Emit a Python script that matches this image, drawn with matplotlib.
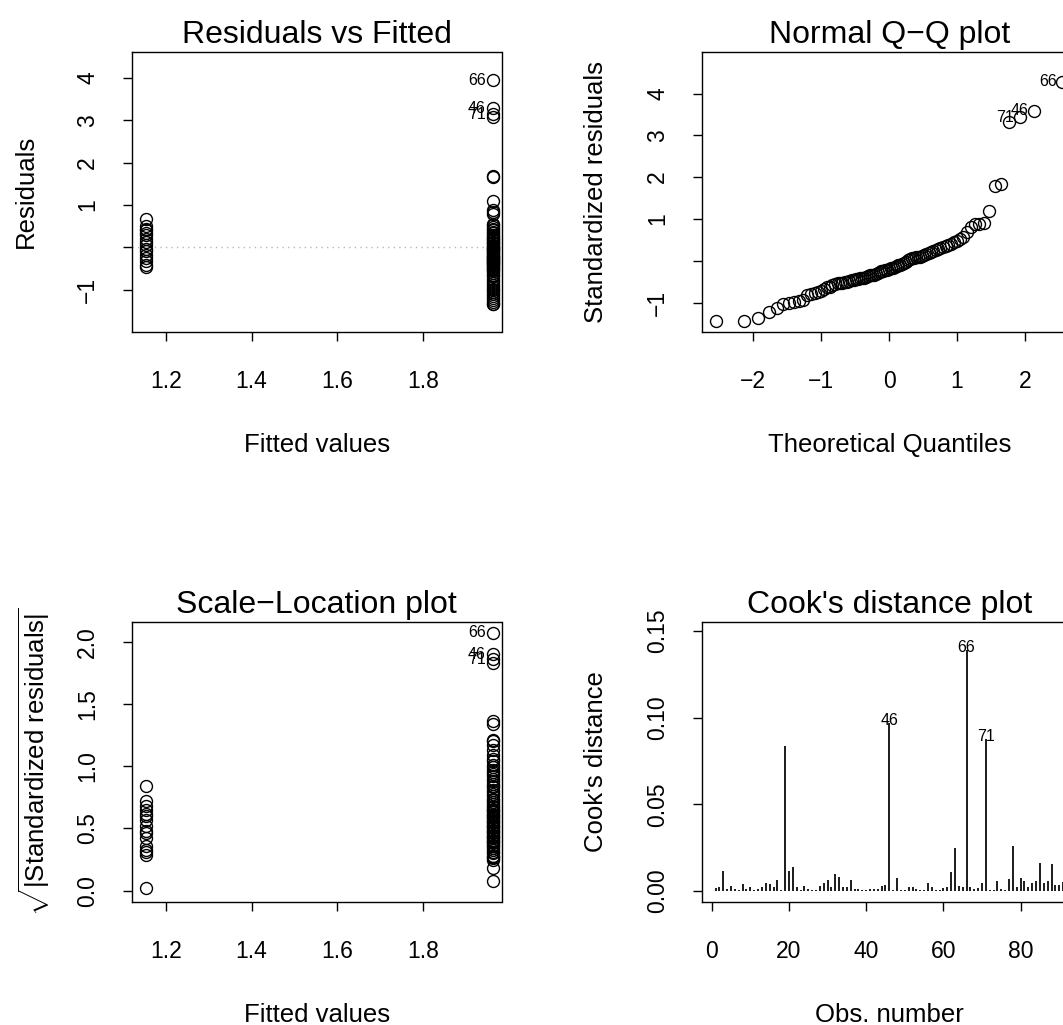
import matplotlib
matplotlib.use("Agg")
import matplotlib.pyplot as plt
from statistics import NormalDist

# ---- data ----
fitted_levels = [1.153, 1.963]

# Residuals vs Fitted (raw residuals per fitted level)
resid_low = [0.67, 0.50, 0.44, 0.41, 0.33, 0.28, 0.20, 0.12, 0.05, -0.04,
             -0.10, -0.19, -0.26, -0.33, -0.41, -0.47]
resid_high = [3.95, 3.28, 3.14, 3.07, 1.69, 1.66, 1.10, 0.88, 0.84, 0.79,
              0.56, 0.52, 0.47, 0.43, 0.40, 0.36, 0.33, 0.30, 0.27, 0.23,
              0.21, 0.18, 0.16, 0.13, 0.11, 0.09, 0.06, 0.04, 0.01, -0.02,
              -0.05, -0.07, -0.10, -0.12, -0.14, -0.16, -0.18, -0.20, -0.22, -0.24,
              -0.25, -0.27, -0.29, -0.31, -0.33, -0.35, -0.36, -0.38, -0.40, -0.42,
              -0.44, -0.46, -0.48, -0.51, -0.54, -0.57, -0.61, -0.65, -0.69, -0.74,
              -0.79, -0.84, -0.89, -0.93, -0.98, -1.02, -1.06, -1.10, -1.15, -1.20,
              -1.25, -1.30, -1.33, -1.34, -0.03]
resid_labels = {"66": 3.95, "46": 3.28, "71": 3.14}

# Normal Q-Q (sorted standardized residuals)
qq_sorted = [-1.45, -1.44, -1.36, -1.22, -1.13, -1.04, -1.01, -0.99, -0.97, -0.93,
             -0.82, -0.80, -0.77, -0.75, -0.72, -0.67, -0.63, -0.62, -0.59, -0.56,
             -0.54, -0.53, -0.52, -0.51, -0.50, -0.48, -0.46, -0.45, -0.44, -0.43,
             -0.42, -0.41, -0.40, -0.38, -0.37, -0.35, -0.34, -0.33, -0.31, -0.29,
             -0.27, -0.25, -0.24, -0.22, -0.21, -0.20, -0.18, -0.16, -0.14, -0.12,
             -0.10, -0.09, -0.08, -0.05, -0.02, 0.01, 0.04, 0.06, 0.07, 0.08,
             0.09, 0.10, 0.11, 0.13, 0.16, 0.18, 0.21, 0.24, 0.27, 0.29,
             0.31, 0.33, 0.36, 0.39, 0.41, 0.44, 0.48, 0.52, 0.58, 0.70,
             0.80, 0.87, 0.89, 0.91, 1.18, 1.79, 1.83, 3.33, 3.43, 3.59,
             4.28]
qq_labels = ["71", "46", "66"]  # three largest, ascending

# Scale-Location (sqrt |standardized residuals|)
sl_low = [0.84, 0.72, 0.68, 0.65, 0.62, 0.60, 0.57, 0.52, 0.48, 0.46,
          0.42, 0.36, 0.33, 0.31, 0.29, 0.02]
sl_high = [2.07, 1.90, 1.86, 1.83, 1.36, 1.34, 1.21, 1.20, 1.17, 1.13,
           1.09, 1.06, 1.04, 1.01, 0.99, 0.97, 0.95, 0.94, 0.92, 0.90,
           0.88, 0.86, 0.84, 0.83, 0.81, 0.79, 0.78, 0.76, 0.74, 0.73,
           0.71, 0.70, 0.68, 0.67, 0.65, 0.64, 0.62, 0.61, 0.60, 0.58,
           0.57, 0.55, 0.54, 0.52, 0.51, 0.49, 0.48, 0.46, 0.45, 0.43,
           0.42, 0.40, 0.39, 0.37, 0.36, 0.34, 0.33, 0.31, 0.30, 0.28,
           0.27, 0.26, 0.25, 0.18, 0.08, 0.63, 0.56, 0.50, 0.44, 0.38,
           0.66, 0.59, 0.53, 0.47, 0.41]
sl_labels = {"66": 2.07, "46": 1.90, "71": 1.86}

# Cook's distance, observations 1..91
cooks = [0.0015, 0.0020, 0.0117, 0.0010, 0.0030, 0.0013, 0.0008, 0.0040, 0.0012, 0.0020,
         0.0008, 0.0010, 0.0020, 0.0046, 0.0040, 0.0025, 0.0063, 0.0006, 0.0837, 0.0115,
         0.0137, 0.0020, 0.0006, 0.0030, 0.0010, 0.0006, 0.0006, 0.0030, 0.0048, 0.0063,
         0.0020, 0.0098, 0.0079, 0.0020, 0.0020, 0.0063, 0.0013, 0.0013, 0.0006, 0.0006,
         0.0013, 0.0013, 0.0010, 0.0027, 0.0035, 0.0967, 0.0006, 0.0073, 0.0006, 0.0008,
         0.0020, 0.0025, 0.0010, 0.0006, 0.0008, 0.0046, 0.0020, 0.0006, 0.0006, 0.0015,
         0.0025, 0.0110, 0.0246, 0.0030, 0.0020, 0.1390, 0.0025, 0.0010, 0.0015, 0.0044,
         0.0877, 0.0006, 0.0006, 0.0060, 0.0013, 0.0006, 0.0070, 0.0258, 0.0025, 0.0073,
         0.0058, 0.0020, 0.0046, 0.0056, 0.0160, 0.0048, 0.0058, 0.0156, 0.0035, 0.0035,
         0.0050]
cook_labels = [46, 66, 71]

# ---- style ----
plt.rcParams['font.family'] = ['Liberation Sans', 'DejaVu Sans']
plt.rcParams['mathtext.fontset'] = 'custom'
plt.rcParams['mathtext.rm'] = 'Liberation Sans'
plt.rcParams['mathtext.it'] = 'Liberation Sans:italic'
plt.rcParams['mathtext.bf'] = 'Liberation Sans:bold'
plt.rcParams['axes.linewidth'] = 1.0

W, H = 1063, 1025
fig = plt.figure(figsize=(W / 100, H / 100), dpi=100)


def add_box(x0, x1, y0, y1):
    # pixel box -> figure fraction
    return fig.add_axes([x0 / W, 1 - y1 / H, (x1 - x0) / W, (y1 - y0) / H])


def r_style(ax, title, xlabel, ylabel, xticks, yticks, ylabels, ylab_px=94.0):
    ax.set_title(title, fontsize=23, pad=6)
    ax.set_xticks(xticks)
    ax.set_yticks(yticks)
    ax.set_yticklabels(ylabels, rotation=90, va='center')
    ax.tick_params(axis='both', length=6.5, width=1.0, labelsize=16.5)
    ax.tick_params(axis='x', pad=21)
    ax.tick_params(axis='y', pad=17)
    ax.set_xlabel(xlabel, fontsize=18.5)
    ax.set_ylabel(ylabel, fontsize=18.5)
    ax.xaxis.set_label_coords(0.5, -0.362)
    w = ax.get_position().width * W
    ax.yaxis.set_label_coords(-ylab_px / w, 0.5)


mk = dict(marker='o', ls='none', mfc='none', mec='black', ms=8.6, mew=1.0)
lab_fs = 11.5

# Residuals vs Fitted
ax1 = add_box(131.7, 501.5, 51.7, 331.5)
ax1.axhline(0, color='0.72', ls=(0, (1, 3)), lw=1.0)
ax1.plot([fitted_levels[0]] * len(resid_low), resid_low, **mk)
ax1.plot([fitted_levels[1]] * len(resid_high), resid_high, **mk)
for name, val in resid_labels.items():
    ax1.annotate(name, (fitted_levels[1], val), xytext=(-5, 0), textcoords='offset points',
                 ha='right', va='center', fontsize=lab_fs)
ax1.set_xlim(1.12, 1.984)
ax1.set_ylim(-1.99, 4.62)
r_style(ax1, "Residuals vs Fitted", "Fitted values", "Residuals",
        [1.2, 1.4, 1.6, 1.8], [-1, 0, 1, 2, 3, 4], ["\u22121", "", "1", "2", "3", "4"])
ax1.set_xticklabels(["1.2", "1.4", "1.6", "1.8"])

# Normal Q-Q
ax2 = add_box(701.7, 1077, 51.7, 331.5)
n = len(qq_sorted)
theo = [NormalDist().inv_cdf((i + 0.5) / n) for i in range(n)]
ax2.plot(theo, qq_sorted, **mk)
for k, name in enumerate(qq_labels):
    idx = n - len(qq_labels) + k
    ax2.annotate(name, (theo[idx], qq_sorted[idx]), xytext=(-4, 0), textcoords='offset points',
                 ha='right', va='center', fontsize=lab_fs)
ax2.set_xlim(-2.75, 2.76)
ax2.set_ylim(-1.69, 5.0)
r_style(ax2, "Normal Q\u2212Q plot", "Theoretical Quantiles", "Standardized residuals",
        [-2, -1, 0, 1, 2], [-1, 0, 1, 2, 3, 4], ["\u22121", "", "1", "2", "3", "4"])
ax2.set_xticklabels(["\u22122", "\u22121", "0", "1", "2"])

# Scale-Location
ax3 = add_box(131.7, 501.5, 621.7, 901.7)
ax3.plot([fitted_levels[0]] * len(sl_low), sl_low, **mk)
ax3.plot([fitted_levels[1]] * len(sl_high), sl_high, **mk)
for name, val in sl_labels.items():
    ax3.annotate(name, (fitted_levels[1], val), xytext=(-5, 0), textcoords='offset points',
                 ha='right', va='center', fontsize=lab_fs)
ax3.set_xlim(1.12, 1.984)
ax3.set_ylim(-0.088, 2.16)
r_style(ax3, "Scale\u2212Location plot", "Fitted values",
        r"$\sqrt{|\mathrm{Standardized\ residuals}|}$",
        [1.2, 1.4, 1.6, 1.8], [0, 0.5, 1.0, 1.5, 2.0], ["0.0", "0.5", "1.0", "1.5", "2.0"],
        ylab_px=80.0)
ax3.set_xticklabels(["1.2", "1.4", "1.6", "1.8"])

# Cook's distance
ax4 = add_box(701.7, 1077, 621.7, 901.7)
obs = list(range(1, len(cooks) + 1))
ax4.vlines(obs, 0, cooks, colors='black', lw=1.25)
for o in cook_labels:
    ax4.annotate(str(o), (o, cooks[o - 1]), xytext=(0, -1.5), textcoords='offset points',
                 ha='center', va='baseline', fontsize=lab_fs)
ax4.set_xlim(-2.6, 94.6)
ax4.set_ylim(-0.0062, 0.1554)
r_style(ax4, "Cook's distance plot", "Obs. number", "Cook's distance",
        [0, 20, 40, 60, 80], [0, 0.05, 0.10, 0.15], ["0.00", "0.05", "0.10", "0.15"])

fig.savefig("out.png", dpi=100, facecolor='white')
